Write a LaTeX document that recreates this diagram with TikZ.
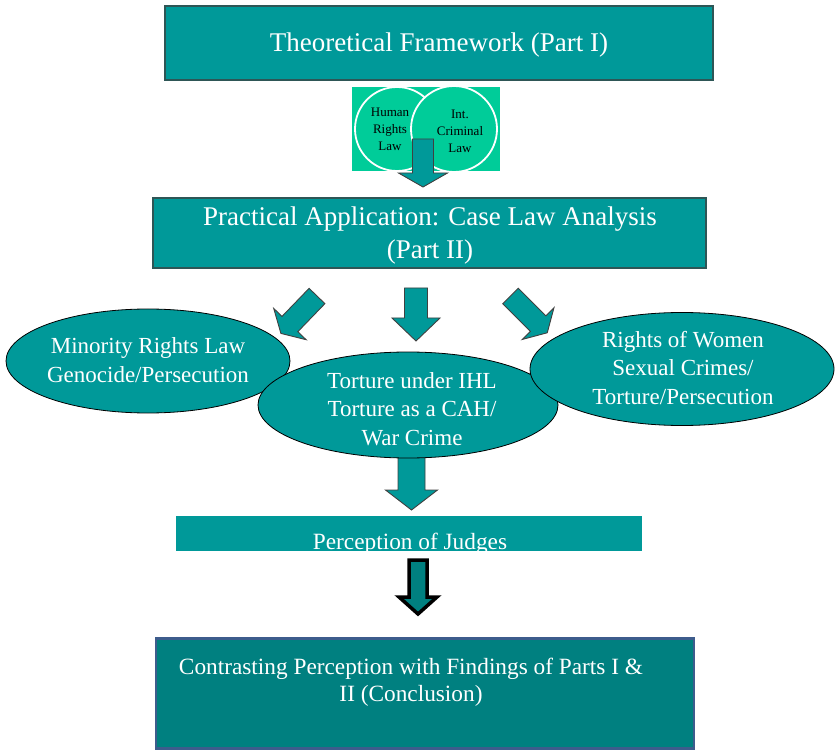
\documentclass[tikz,border=0pt]{standalone}
\usepackage{fontspec}
\setmainfont{Liberation Serif}
\usetikzlibrary{shapes.geometric}
\definecolor{teal1}{HTML}{009999}
\definecolor{teal2}{HTML}{008080}
\definecolor{mint}{HTML}{00CC99}
\definecolor{boxedge}{HTML}{2E5656}
\definecolor{blueedge}{HTML}{3D5C8C}
\tikzset{
  bigbox/.style={draw=boxedge, line width=1.6pt, fill=teal1, rectangle, inner sep=0pt},
  oval/.style={draw=black, line width=0.8pt, fill=teal1, ellipse, inner sep=0pt},
  wtext/.style={text=white, align=center, inner sep=0pt},
  arrowfill/.style={draw=black!75, line width=0.9pt, fill=teal1, line join=miter},
  darkarrow/.style={draw=black, line width=3.5pt, fill=teal2, line join=miter},
  pics/barrow/.style n args={4}{code={
    \draw[pic actions] (-#1,0) -- (#1,0) -- (#1,#2) -- (#3,#2) -- (0,#2+#4) -- (-#3,#2) -- (-#1,#2) -- cycle;
  }}
}
\begin{document}
\begin{tikzpicture}[x=1pt,y=-1pt]
\useasboundingbox (0,0) rectangle (838,751);

% Top box
\node[bigbox, minimum width=548pt, minimum height=74pt] (top) at (439,43) {};
\node[wtext, font=\fontsize{27}{33}\selectfont] (toptext) at (439,45) {Theoretical Framework (Part I)};

% Circles block
\node[fill=mint, minimum width=148pt, minimum height=84pt, inner sep=0pt] (bg) at (426,129) {};
\begin{scope}
  \clip (352,87) rectangle (500,171);
  \node[circle, draw=white, line width=1.8pt, fill=mint, minimum size=84pt, inner sep=0pt] (hr) at (397,129) {};
  \node[circle, draw=white, line width=1.8pt, fill=mint, minimum size=86pt, inner sep=0pt] (icl) at (454,129) {};
\end{scope}
\node[align=center, inner sep=0pt, font=\fontsize{13}{17}\selectfont] (hrt) at (390,129) {Human\\Rights\\Law};
\node[align=center, inner sep=0pt, font=\fontsize{13}{17}\selectfont] (iclt) at (460,131) {Int.\\Criminal\\Law};
\pic[arrowfill] at (423,139) {barrow={10.5}{34}{24.5}{14}};

% Second box
\node[bigbox, minimum width=553pt, minimum height=70pt] (part2) at (429.5,233) {};
\node[wtext, font=\fontsize{27}{33}\selectfont] (part2text) at (430,236) {Practical Application: Case Law Analysis\\(Part II)};

% Three arrows
\pic[arrowfill, rotate=-44] at (317,296) {barrow={11}{39}{22.5}{13}};
\pic[arrowfill] at (416,288) {barrow={11.5}{30}{24}{23}};
\pic[arrowfill, rotate=45] at (510.5,296) {barrow={11}{39}{22.5}{13}};

% Arrow below middle ellipse
\pic[arrowfill] at (411.5,448) {barrow={13.5}{42}{26}{20}};

% Ellipses
\node[oval, minimum width=284pt, minimum height=104pt] (minor) at (148,361) {};
\node[wtext, font=\fontsize{23}{29}\selectfont] (minort) at (148,360) {Minority Rights Law\\Genocide/Persecution};
\node[oval, minimum width=300pt, minimum height=106pt] (tort) at (408,405) {};
\node[wtext, font=\fontsize{23}{28.5}\selectfont] (tortt) at (412,409) {Torture under IHL\\Torture as a CAH/\\War Crime};
\node[oval, minimum width=304pt, minimum height=113pt] (women) at (682,369) {};
\node[wtext, font=\fontsize{23}{28.5}\selectfont] (woment) at (683,368) {Rights of Women\\Sexual Crimes/\\Torture/Persecution};

% Perception box
\node[fill=teal1, minimum width=466pt, minimum height=35pt, inner sep=0pt] (judges) at (409,533.5) {};
\begin{scope}
  \clip (176,516) rectangle (642,551);
  \node[text=white, anchor=base, inner sep=0pt, font=\fontsize{23.3}{28}\selectfont] (judgest) at (410,549.5) {Perception of Judges};
\end{scope}

% Dark arrow
\pic[darkarrow] at (418,560) {barrow={9}{37}{19}{17}};

% Bottom box
\node[draw=blueedge, line width=2.6pt, fill=teal2, minimum width=538pt, minimum height=110pt, inner sep=0pt] (concl) at (425,693.5) {};
\node[wtext, font=\fontsize{23.3}{27}\selectfont] (conclt) at (411,682) {Contrasting Perception with Findings of Parts I \&\\II (Conclusion)};
\end{tikzpicture}
\end{document}
